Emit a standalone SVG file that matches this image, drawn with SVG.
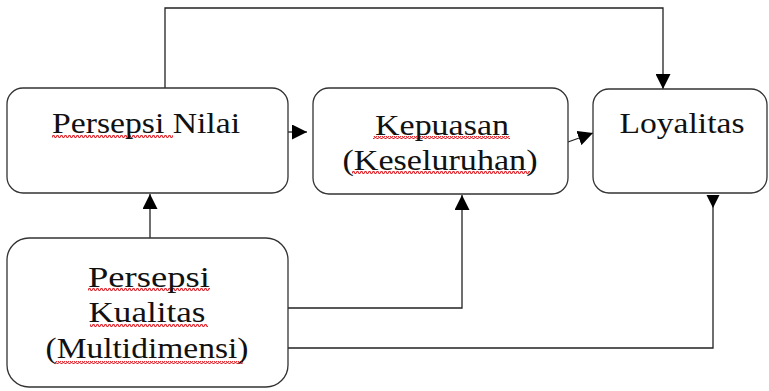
<svg xmlns="http://www.w3.org/2000/svg" width="769" height="391" viewBox="0 0 769 391">
<style>
.box{fill:#fff;stroke:#333;stroke-width:1.3}
.lbl{font-family:"Liberation Serif","DejaVu Serif",serif;font-size:29px;fill:#111;text-anchor:middle}
.con{fill:none;stroke:#222;stroke-width:1.3}
.sq{fill:url(#squig)}
</style>
<defs>
<marker id="ah" viewBox="0 0 10 10" refX="10" refY="5" markerWidth="15" markerHeight="15" markerUnits="userSpaceOnUse" orient="auto"><path d="M0,0 L10,5 L0,10 z" fill="#000"/></marker>
<marker id="ahs" viewBox="0 0 10 10" refX="0" refY="5" markerWidth="13" markerHeight="15" markerUnits="userSpaceOnUse" orient="auto"><path d="M0,0 L10,5 L0,10 z" fill="#000"/></marker>
<pattern id="squig" width="4" height="3" patternUnits="userSpaceOnUse"><path d="M0,2.5 L1,0.5 L2,0.5 L3,2.5 L4,2.5" fill="none" stroke="#e8232a" stroke-width="1.1"/></pattern>
</defs>
<g id="connectors">
<path class="con" d="M165,88 V8 H663 V89" marker-end="url(#ah)"/>
<path class="con" d="M288,132 H307" marker-end="url(#ah)"/>
<path class="con" d="M568,142 L593,133" marker-end="url(#ah)"/>
<path class="con" d="M150,238 V194" marker-end="url(#ah)"/>
<path class="con" d="M288,308 H462 V195" marker-end="url(#ah)"/>
<path class="con" d="M713,195 V348 H288" marker-start="url(#ahs)"/>
</g>
<g id="persepsi-nilai">
<rect class="box" x="7" y="88" width="281" height="105" rx="16"/>
<rect class="sq" x="52" y="135" width="121" height="3"/>
<text class="lbl" x="146" y="133" textLength="188" lengthAdjust="spacingAndGlyphs">Persepsi Nilai</text>
</g>
<g id="kepuasan">
<rect class="box" x="313" y="88" width="255" height="106" rx="16"/>
<rect class="sq" x="373" y="136" width="137" height="3"/>
<rect class="sq" x="352" y="171" width="178" height="3"/>
<text class="lbl" x="442" y="135" textLength="134" lengthAdjust="spacingAndGlyphs">Kepuasan</text>
<text class="lbl" x="440" y="170" textLength="195" lengthAdjust="spacingAndGlyphs">(Keseluruhan)</text>
</g>
<g id="loyalitas">
<rect class="box" x="593" y="89" width="174" height="104" rx="16"/>
<text class="lbl" x="682" y="133" textLength="125" lengthAdjust="spacingAndGlyphs">Loyalitas</text>
</g>
<g id="persepsi-kualitas">
<rect class="box" x="7" y="238" width="281" height="149" rx="22"/>
<rect class="sq" x="88" y="288" width="122" height="3"/>
<rect class="sq" x="90" y="324" width="118" height="3"/>
<rect class="sq" x="55" y="361" width="188" height="3"/>
<text class="lbl" x="149" y="287" textLength="122" lengthAdjust="spacingAndGlyphs">Persepsi</text>
<text class="lbl" x="147" y="322" textLength="117" lengthAdjust="spacingAndGlyphs">Kualitas</text>
<text class="lbl" x="147" y="358" textLength="203" lengthAdjust="spacingAndGlyphs">(Multidimensi)</text>
</g>
</svg>
